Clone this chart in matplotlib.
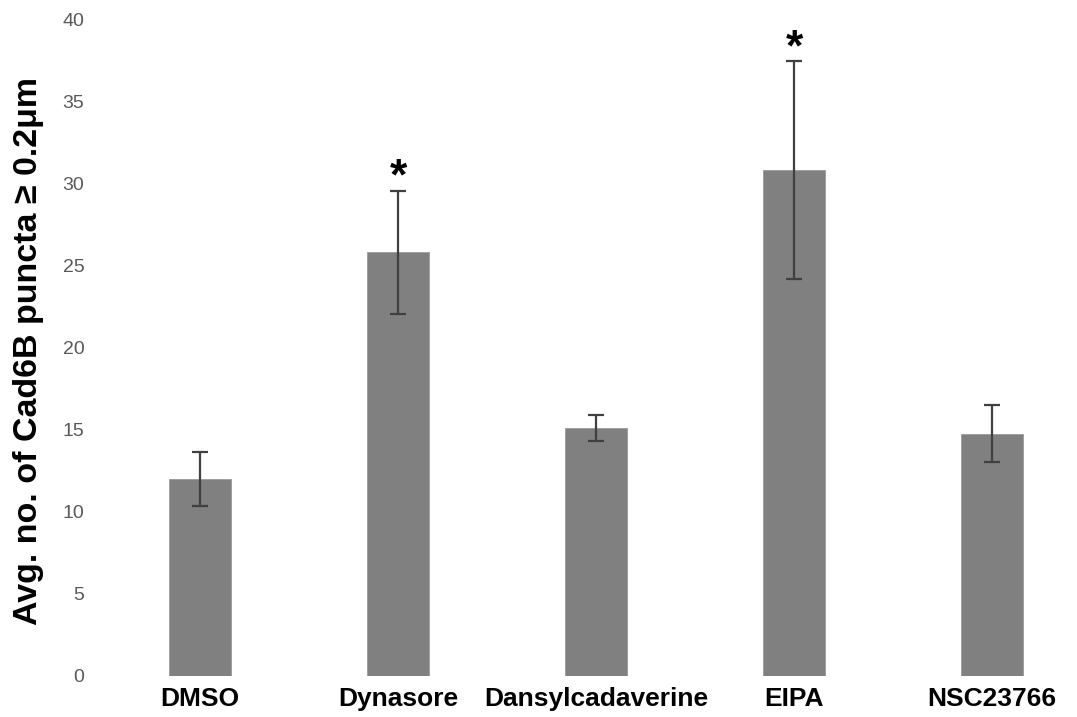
import matplotlib
matplotlib.use('Agg')
import matplotlib.pyplot as plt
import numpy as np

# data
labels = ['DMSO', 'Dynasore', 'Dansylcadaverine', 'EIPA', 'NSC23766']
means = [12.0, 25.8, 15.1, 30.8, 14.75]
errs = [1.65, 3.75, 0.8, 6.65, 1.75]
signif = [False, True, False, True, False]

plt.rcParams['font.family'] = ['Liberation Sans', 'DejaVu Sans']

fig = plt.figure(figsize=(10.77, 7.17), dpi=100)
W, H = 1077, 717
# axes placed in pixel coords: x 101..1077, y 19..676
ax = fig.add_axes([101 / W, (H - 676) / H, (W - 101) / W, (676 - 19) / H])

x = np.arange(len(labels))
ax.bar(x, means, width=0.31, color='#808080', edgecolor='#9a9a9a', linewidth=0.6, zorder=2)
ax.errorbar(x, means, yerr=errs, fmt='none', ecolor='#404040', elinewidth=1.6,
            capsize=6, capthick=1.6, zorder=3)

# significance stars
for xi, m, e, s in zip(x, means, errs, signif):
    if s:
        ax.text(xi, m + e - 0.5, '*', ha='center', va='bottom', fontsize=32,
                fontweight='bold', color='black')

ax.set_xlim(-0.5, (W - 200) / 198)
ax.set_ylim(0, 40)
ax.set_yticks(np.arange(0, 41, 5))
ax.set_xticks(x)
ax.set_xticklabels(labels, fontsize=19, fontweight='bold')
ax.tick_params(axis='y', length=0, pad=12, labelsize=14, labelcolor='#595959')
ax.tick_params(axis='x', length=0, pad=8)
for sp in ax.spines.values():
    sp.set_visible(False)

fig.text(29 / W, (H - 351) / H, 'Avg. no. of Cad6B puncta \u2265 0.2\u03bcm',
         rotation=90, ha='center', va='center', fontsize=24.5, fontweight='bold')

fig.savefig('out.png', dpi=100)
